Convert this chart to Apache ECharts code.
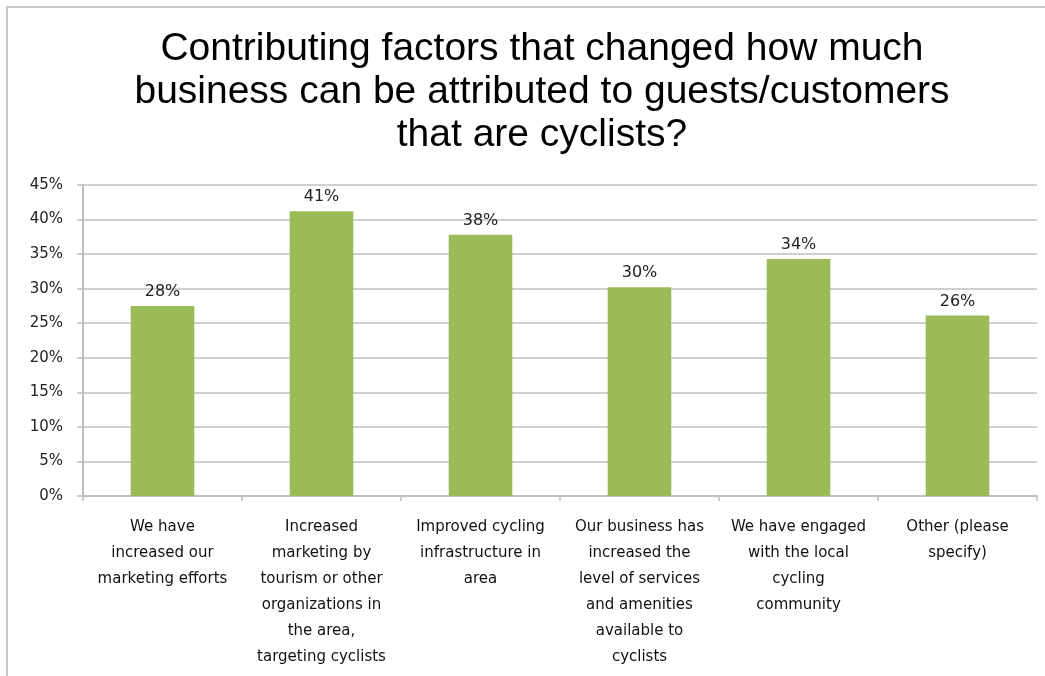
<!DOCTYPE html>
<html>
<head>
<meta charset="utf-8">
<script src="https://cdn.jsdelivr.net/npm/echarts@6/dist/echarts.min.js"></script>
<style>
  html, body { margin: 0; padding: 0; background: #fff; }
  #chart { width: 1045px; height: 676px; }
</style>
</head>
<body>
<div id="chart"></div>
<script>
    // categories (line breaks as wrapped in the picture)
    var factors = [
        'We have\nincreased our\nmarketing efforts',
        'Increased\nmarketing by\ntourism or other\norganizations in\nthe area,\ntargeting cyclists',
        'Improved cycling\ninfrastructure in\narea',
        'Our business has\nincreased the\nlevel of services\nand amenities\navailable to\ncyclists',
        'We have engaged\nwith the local\ncycling\ncommunity',
        'Other (please\nspecify)'
    ];
    var shares = [27.5, 41.2, 37.8, 30.2, 34.3, 26.1];
    var pctTicks = [0, 5, 10, 15, 20, 25, 30, 35, 40, 45];

    var myChart = echarts.init(document.getElementById('chart'));
    var option = {
        backgroundColor: '#fff',
        animation: false,
        title: {
            text: 'Contributing factors that changed how much\nbusiness can be attributed to guests/customers\nthat are cyclists?',
            left: 537,
            textAlign: 'center',
            top: 23,
            textStyle: {
                fontFamily: 'Liberation Sans',
                fontSize: 39,
                fontWeight: 'normal',
                color: '#000',
                lineHeight: 43
            }
        },
        graphic: [{
            type: 'rect',
            shape: { x: 7, y: 7, width: 1100, height: 700 },
            style: { fill: 'none', stroke: '#c8c8c8', lineWidth: 2 },
            silent: true
        }],
        grid: {
            left: 83,
            right: 8,
            top: 185,
            bottom: 180
        },
        xAxis: {
            type: 'category',
            data: factors,
            axisLine: { lineStyle: { color: '#bfbfbf', width: 2 } },
            axisTick: { show: true, length: 5, lineStyle: { color: '#bfbfbf', width: 1.5 } },
            axisLabel: {
                interval: 0,
                margin: 18,
                fontFamily: 'DejaVu Sans',
                fontSize: 15,
                color: '#111',
                lineHeight: 26,
                align: 'center'
            }
        },
        yAxis: {
            type: 'value',
            min: 0,
            max: 45,
            interval: 5,
            axisLine: { show: true, lineStyle: { color: '#bfbfbf', width: 2 } },
            axisTick: { show: true, length: 6, lineStyle: { color: '#bfbfbf', width: 1.5 } },
            splitLine: { lineStyle: { color: '#d0d0d0', width: 2 } },
            axisLabel: {
                margin: 20,
                fontFamily: 'DejaVu Sans',
                fontSize: 15,
                color: '#222',
                formatter: function (v) { return pctTicks.indexOf(v) >= 0 ? v + '%' : ''; }
            }
        },
        series: [{
            type: 'bar',
            data: shares,
            barWidth: '40%',
            itemStyle: { color: '#9bbb59' },
            label: {
                show: true,
                position: 'top',
                distance: 6,
                fontFamily: 'DejaVu Sans',
                fontSize: 16,
                color: '#222',
                formatter: function (p) { return Math.round(p.value) + '%'; }
            }
        }]
    };
    myChart.setOption(option);
</script>
</body>
</html>
